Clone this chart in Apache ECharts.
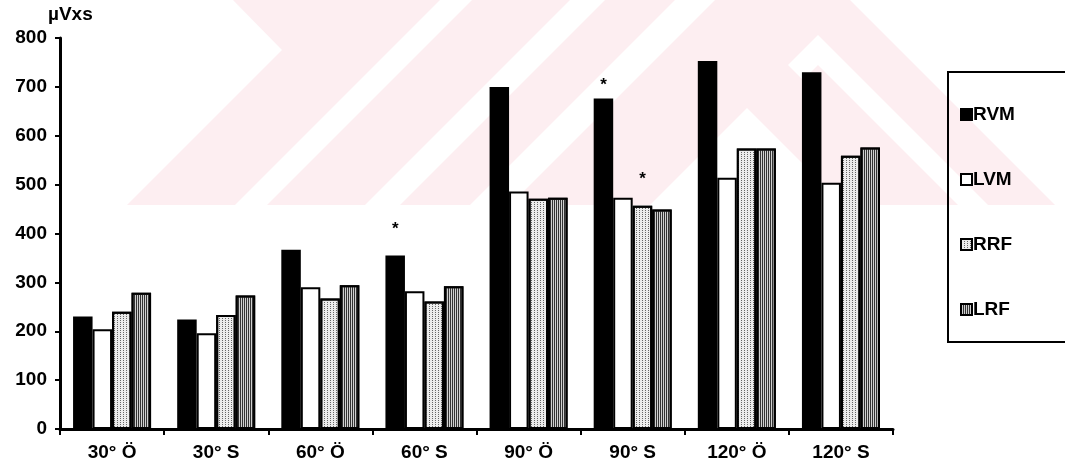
<!DOCTYPE html>
<html>
<head>
<meta charset="utf-8">
<script src="https://cdn.jsdelivr.net/npm/echarts@6/dist/echarts.min.js"></script>
<style>
html,body{margin:0;padding:0;background:#fff;}
#chart{width:1065px;height:476px;}
</style>
</head>
<body>
<div id="chart"></div>
<script>
// ---- data ----
var categories = ['30° Ö', '30° S', '60° Ö', '60° S', '90° Ö', '90° S', '120° Ö', '120° S'];
var seriesNames = ['RVM', 'LVM', 'RRF', 'LRF'];
var RVM = [230, 224, 367, 355, 700, 676, 753, 730];
var LVM = [204, 196, 290, 282, 486, 473, 514, 504];
var RRF = [240, 233, 267, 261, 471, 457, 574, 559];
var LRF = [279, 273, 294, 292, 473, 449, 574, 576];
var yTicks = [0, 100, 200, 300, 400, 500, 600, 700, 800];
// significance stars: [category index, series index]
var stars = [[3, 0], [5, 0], [5, 2]];

var values = [RVM, LVM, RRF, LRF];
var font = 'Liberation Sans, Arial, sans-serif';
var fs = 19;

var styles = [
  {color: '#000', borderColor: '#000', borderWidth: 2},
  {color: '#fff', borderColor: '#000', borderWidth: 2},
  {color: '#ececec', borderColor: '#000', borderWidth: 2,
   decal: {symbol: 'rect', symbolSize: 1, dashArrayX: [1, 2], dashArrayY: [1, 1], color: '#666'}},
  {color: '#d0d0d0', borderColor: '#000', borderWidth: 2,
   decal: {symbol: 'rect', symbolSize: 1, dashArrayX: [1, 1], dashArrayY: [4, 0], color: '#333'}}
];
var starDist = {'3_0': 18, '5_0': 5, '5_2': 18};

var series = seriesNames.map(function (name, si) {
  return {
    name: name,
    type: 'bar',
    barWidth: 19.5,
    barGap: '0%',
    itemStyle: styles[si],
    data: values[si].map(function (v, ci) {
      var isStar = stars.some(function (s) { return s[0] === ci && s[1] === si; });
      if (!isStar) return v;
      return {
        value: v,
        label: {show: true, position: 'top', formatter: '*', distance: starDist[ci + '_' + si],
                color: '#000', fontSize: 17, fontWeight: 'bold', fontFamily: font}
      };
    })
  };
});

var legendTops = [100, 165, 230, 295];
var legends = seriesNames.map(function (n, i) {
  return {
    data: [n], left: 955, top: legendTops[i], orient: 'vertical',
    itemWidth: 11, itemHeight: 11, itemGap: 4, icon: 'rect',
    textStyle: {color: '#000', fontSize: fs, fontWeight: 'bold', fontFamily: font, padding: [0, 0, 0, -4]},
    selectedMode: false
  };
});

var pink = '#fdeef1';
var wm = [
  {type: 'polygon', shape: {points: [[233,0],[282,50],[127,205],[1055,205],[850,0]]}, style: {fill: pink}},
  {type: 'polygon', shape: {points: [[440,0],[472,0],[267,205],[235,205]]}, style: {fill: '#fff'}},
  {type: 'polygon', shape: {points: [[570,0],[605,0],[400,205],[365,205]]}, style: {fill: '#fff'}},
  {type: 'polygon', shape: {points: [[675,0],[715,0],[510,205],[470,205]]}, style: {fill: '#fff'}},
  {type: 'polygon', shape: {points: [[818,35],[988,205],[958,205],[818,65],[803,80],[788,65]]}, style: {fill: '#fff'}},
  {type: 'polygon', shape: {points: [[747,108],[844,205],[650,205]]}, style: {fill: '#fff'}}
];
wm.forEach(function (e) { e.silent = true; e.z = -10; });
wm.push({type: 'rect', shape: {x: 948, y: 72, width: 140, height: 270}, style: {fill: 'none', stroke: '#000', lineWidth: 2}, z: 100, silent: true});

var chart = echarts.init(document.getElementById('chart'));
chart.setOption({
  animation: false,
  backgroundColor: '#fff',
  graphic: {elements: wm},
  grid: {left: 60, right: 172, top: 38, bottom: 47, containLabel: false},
  legend: legends,
  xAxis: {
    type: 'category',
    data: categories,
    axisLine: {lineStyle: {color: '#000', width: 3}},
    axisTick: {show: true, length: 6, lineStyle: {color: '#000', width: 2}},
    axisLabel: {color: '#000', fontSize: fs, fontWeight: 'bold', fontFamily: font, margin: 14}
  },
  yAxis: {
    type: 'value',
    min: yTicks[0], max: yTicks[yTicks.length - 1], interval: 100,
    name: 'µVxs',
    nameLocation: 'end',
    nameGap: 14,
    nameTextStyle: {color: '#000', fontSize: fs, fontWeight: 'bold', fontFamily: font, align: 'left', padding: [0, 0, 0, -12]},
    axisLine: {show: true, lineStyle: {color: '#000', width: 3}},
    axisTick: {show: true, length: 5, lineStyle: {color: '#000', width: 2}},
    axisLabel: {color: '#000', fontSize: fs, fontWeight: 'bold', fontFamily: font, margin: 13},
    splitLine: {show: false}
  },
  series: series
});
</script>
</body>
</html>
